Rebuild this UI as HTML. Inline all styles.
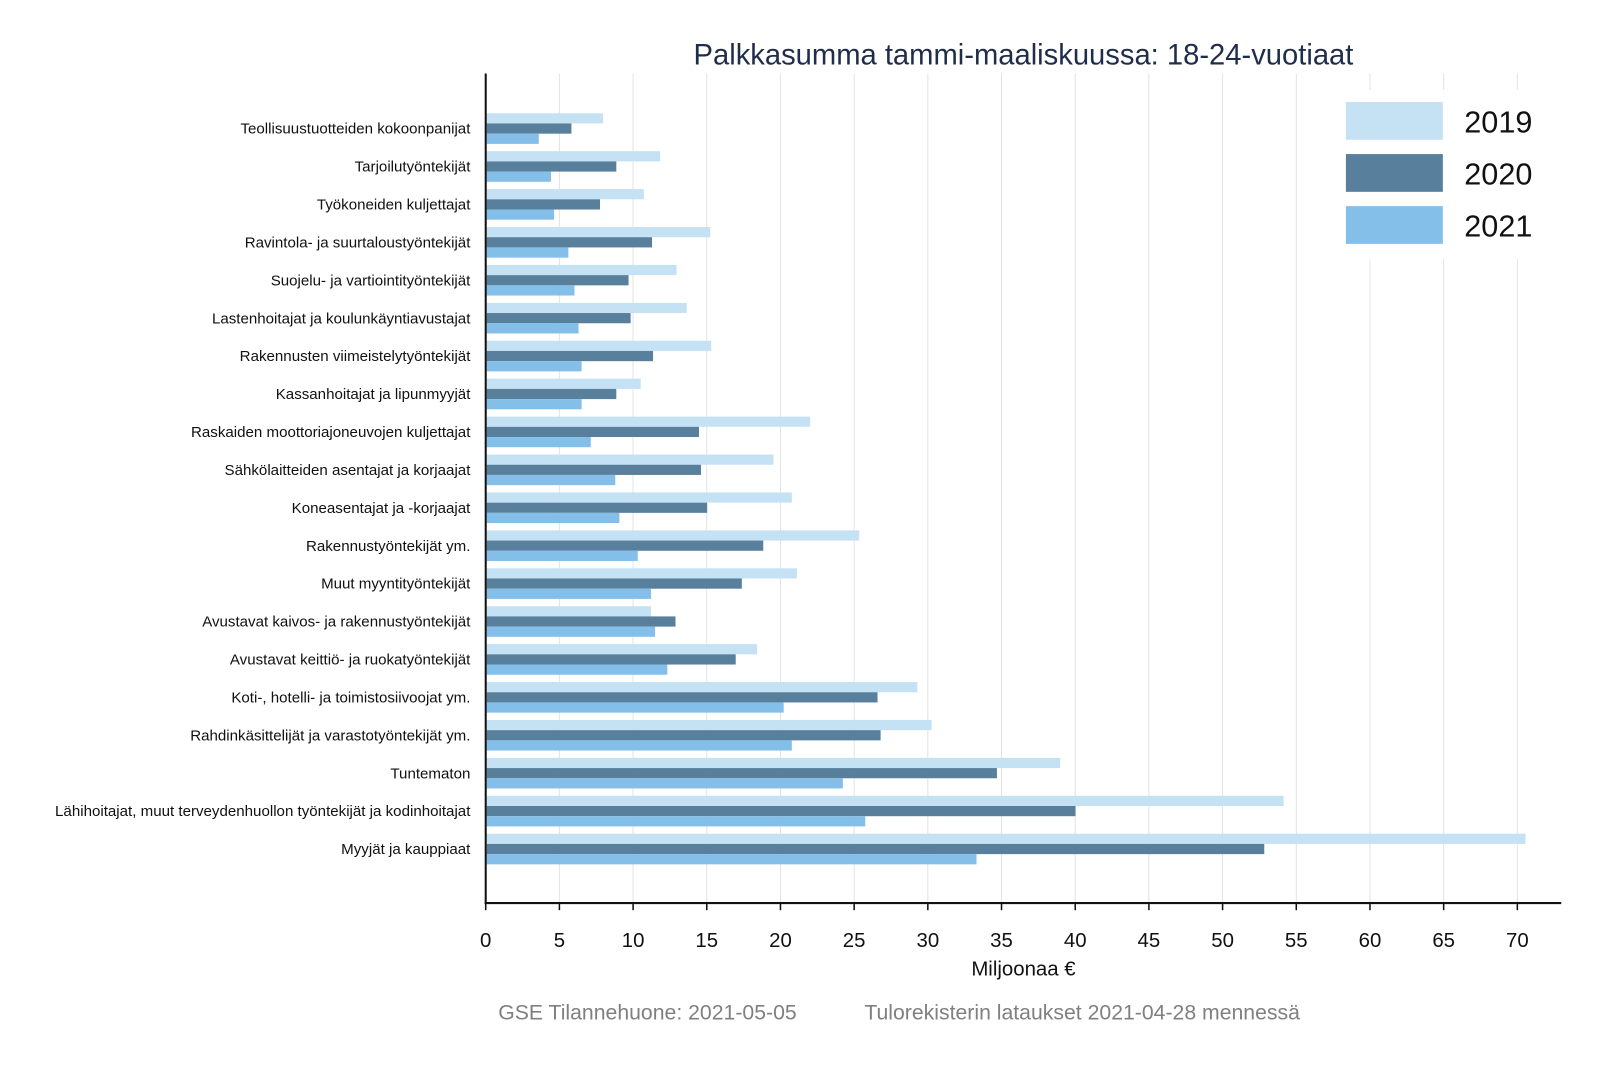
<!DOCTYPE html>
<html><head><meta charset="utf-8"><style>body{margin:0;background:#fff;overflow:hidden}svg{display:block}text{font-family:"Liberation Sans",Arial,sans-serif}</style></head><body>
<svg width="1600" height="1067" xmlns="http://www.w3.org/2000/svg">
<rect width="1600" height="1067" fill="#fff"/>
<g transform="scale(1.0204)">
<g stroke="#e3e3e3" stroke-width="1">
<line x1="548.2" y1="72" x2="548.2" y2="885"/><line x1="620.4" y1="72" x2="620.4" y2="885"/><line x1="692.6" y1="72" x2="692.6" y2="885"/><line x1="764.9" y1="72" x2="764.9" y2="885"/><line x1="837.1" y1="72" x2="837.1" y2="885"/><line x1="909.3" y1="72" x2="909.3" y2="885"/><line x1="981.5" y1="72" x2="981.5" y2="885"/><line x1="1053.7" y1="72" x2="1053.7" y2="885"/><line x1="1125.9" y1="72" x2="1125.9" y2="885"/><line x1="1198.1" y1="72" x2="1198.1" y2="885"/><line x1="1270.4" y1="72" x2="1270.4" y2="885"/><line x1="1342.6" y1="72" x2="1342.6" y2="885"/><line x1="1414.8" y1="72" x2="1414.8" y2="885"/><line x1="1487" y1="72" x2="1487" y2="885"/>
</g>
<g id="bars"></g>
<text x="1003" y="63" font-size="28.6" fill="#1f2d4a" text-anchor="middle">Palkkasumma tammi-maaliskuussa: 18-24-vuotiaat</text>
<g font-size="14.8" fill="#111" text-anchor="end" id="labels"></g>
<rect x="1305" y="88" width="210" height="166" fill="#fff"/>
<rect x="1319" y="100" width="95" height="37" fill="#c5e2f5"/>
<rect x="1319" y="151" width="95" height="37" fill="#587f9b"/>
<rect x="1319" y="202" width="95" height="37" fill="#84bfea"/>
<g font-size="30" fill="#111"><text x="1435" y="130">2019</text><text x="1435" y="181">2020</text><text x="1435" y="232">2021</text></g>
<line x1="476" y1="72" x2="476" y2="886" stroke="#111" stroke-width="2"/>
<line x1="475" y1="885" x2="1530" y2="885" stroke="#111" stroke-width="2"/>
<g id="ticks" font-size="20" fill="#111" text-anchor="middle"></g>
<text x="1003" y="956" font-size="20" fill="#111" text-anchor="middle">Miljoonaa €</text>
<text x="634.5" y="999" font-size="20.8" fill="#808080" text-anchor="middle">GSE Tilannehuone: 2021-05-05</text>
<text x="1060.5" y="999" font-size="20.8" fill="#808080" text-anchor="middle">Tulorekisterin lataukset 2021-04-28 mennessä</text>
</g>
<script>
var labels=["Teollisuustuotteiden kokoonpanijat","Tarjoilutyöntekijät","Työkoneiden kuljettajat","Ravintola- ja suurtaloustyöntekijät","Suojelu- ja vartiointityöntekijät","Lastenhoitajat ja koulunkäyntiavustajat","Rakennusten viimeistelytyöntekijät","Kassanhoitajat ja lipunmyyjät","Raskaiden moottoriajoneuvojen kuljettajat","Sähkölaitteiden asentajat ja korjaajat","Koneasentajat ja -korjaajat","Rakennustyöntekijät ym.","Muut myyntityöntekijät","Avustavat kaivos- ja rakennustyöntekijät","Avustavat keittiö- ja ruokatyöntekijät","Koti-, hotelli- ja toimistosiivoojat ym.","Rahdinkäsittelijät ja varastotyöntekijät ym.","Tuntematon","Lähihoitajat, muut terveydenhuollon työntekijät ja kodinhoitajat","Myyjät ja kauppiaat"];
var px=[[591,560,528],[647,604,540],[631,588,543],[696,639,557],[663,616,563],[673,618,567],[697,640,570],[628,604,570],[794,685,579],[758,687,603],[776,693,607],[842,748,625],[781,727,638],[638,662,642],[742,721,654],[899,860,768],[913,863,776],[1039,977,826],[1258,1054,848],[1495,1239,957]];
var cols=["#c5e2f5","#587f9b","#84bfea"],ns="http://www.w3.org/2000/svg";
var b=document.getElementById("bars"),l=document.getElementById("labels"),t=document.getElementById("ticks");
for(var i=0;i<20;i++){var c=126+i*37.16;
for(var j=0;j<3;j++){var r=document.createElementNS(ns,"rect");r.setAttribute("x",477);r.setAttribute("y",c-15+j*10);r.setAttribute("width",px[i][j]-477);r.setAttribute("height",10);r.setAttribute("fill",cols[j]);b.appendChild(r);}
var tx=document.createElementNS(ns,"text");tx.setAttribute("x",461);tx.setAttribute("y",c+5);tx.textContent=labels[i];l.appendChild(tx);}
for(var k=0;k<=14;k++){var x=476+k*5*14.443;var ln=document.createElementNS(ns,"line");ln.setAttribute("x1",x);ln.setAttribute("x2",x);ln.setAttribute("y1",885);ln.setAttribute("y2",892);ln.setAttribute("stroke","#111");ln.setAttribute("stroke-width","1.5");t.appendChild(ln);
var tt=document.createElementNS(ns,"text");tt.setAttribute("x",x);tt.setAttribute("y",928);tt.textContent=k*5;t.appendChild(tt);}
</script>
</svg></body></html>
